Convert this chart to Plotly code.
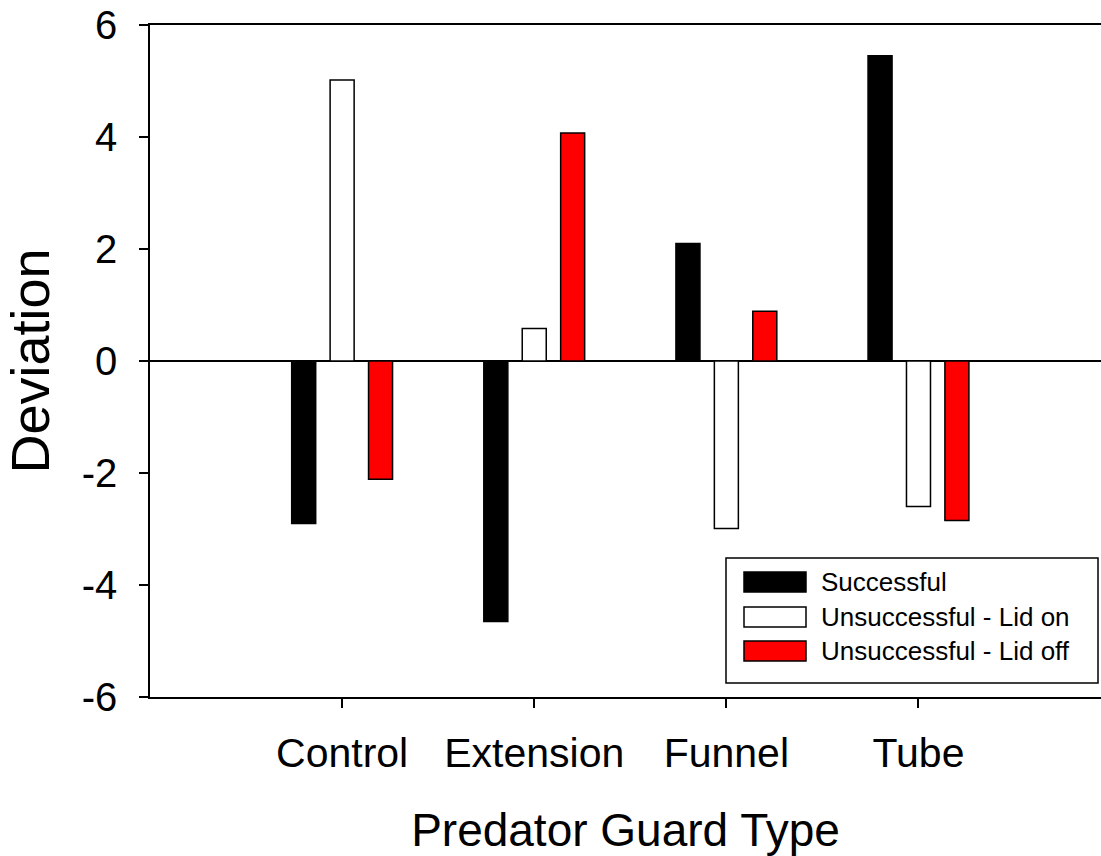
import plotly.graph_objects as go

categories = ["Control", "Extension", "Funnel", "Tube"]
series_names = ["Successful", "Unsuccessful - Lid on", "Unsuccessful - Lid off"]
successful = [-2.9, -4.65, 2.1, 5.45]
lid_on = [5.02, 0.58, -2.99, -2.6]
lid_off = [-2.11, 4.07, 0.89, -2.85]
series_values = [successful, lid_on, lid_off]
series_colors = ["#000000", "#FFFFFF", "#FF0000"]
y_ticks = [-6, -4, -2, 0, 2, 4, 6]

FONT = "Arial, Liberation Sans, sans-serif"
W, H = 1101, 856
ML, MR, MT, MB = 150, 0, 25, 159
PW, PH = W - ML - MR, H - MT - MB


def px_to_paper(x, y):
    return (x - ML) / PW, (H - MB - y) / PH


fig = go.Figure()
for name, vals, col in zip(series_names, series_values, series_colors):
    fig.add_trace(go.Bar(
        x=categories, y=vals, name=name,
        marker=dict(color=col, line=dict(color="black", width=1.5)),
        showlegend=False,
    ))

# manual legend (box, swatches, labels)
shapes = []
annotations = []
bx0, by0 = px_to_paper(726, 683)
bx1, by1 = px_to_paper(1098, 558)
shapes.append(dict(type="rect", xref="paper", yref="paper", x0=bx0, y0=by0, x1=bx1, y1=by1,
                   line=dict(color="black", width=1.5), fillcolor="white", layer="above"))
row_y = [582, 617, 651]
for name, col, ry in zip(series_names, series_colors, row_y):
    sx0, sy0 = px_to_paper(744, ry + 10)
    sx1, sy1 = px_to_paper(806, ry - 10)
    shapes.append(dict(type="rect", xref="paper", yref="paper", x0=sx0, y0=sy0, x1=sx1, y1=sy1,
                       line=dict(color="black", width=1.5), fillcolor=col, layer="above"))
    tx, ty = px_to_paper(819, ry)
    annotations.append(dict(xref="paper", yref="paper", x=tx, y=ty, text=name, showarrow=False,
                            xanchor="left", yanchor="middle",
                            font=dict(family=FONT, size=26, color="black")))

fig.update_layout(
    width=W, height=H,
    margin=dict(l=ML, r=MR, t=MT, b=MB, pad=0),
    paper_bgcolor="white", plot_bgcolor="white",
    barmode="group", bargap=0.4, bargroupgap=0.375,
    shapes=shapes, annotations=annotations,
    font=dict(family=FONT, color="black"),
    showlegend=False,
)
fig.update_xaxes(
    type="category", range=[-1, 3.95],
    showline=True, linecolor="black", linewidth=1.5, mirror=True,
    ticks="outside", ticklen=9, tickwidth=1.5, tickcolor="black",
    tickfont=dict(family=FONT, size=41), ticklabelstandoff=10,
    showgrid=False, zeroline=False,
    title=dict(text="Predator Guard Type", font=dict(family=FONT, size=46), standoff=40),
)
fig.update_yaxes(
    range=[-6, 6], tickvals=y_ticks, ticktext=[str(v) for v in y_ticks],
    showline=True, linecolor="black", linewidth=1.5,
    ticks="outside", ticklen=9, tickwidth=1.5, tickcolor="black",
    tickfont=dict(family=FONT, size=40), ticklabelstandoff=14,
    showgrid=False, zeroline=True, zerolinecolor="black", zerolinewidth=1.5,
    title=dict(text="Deviation", font=dict(family=FONT, size=54), standoff=24),
)

fig.write_html("out.html", config={"displayModeBar": False},
               post_script="document.body.style.margin='0';")
